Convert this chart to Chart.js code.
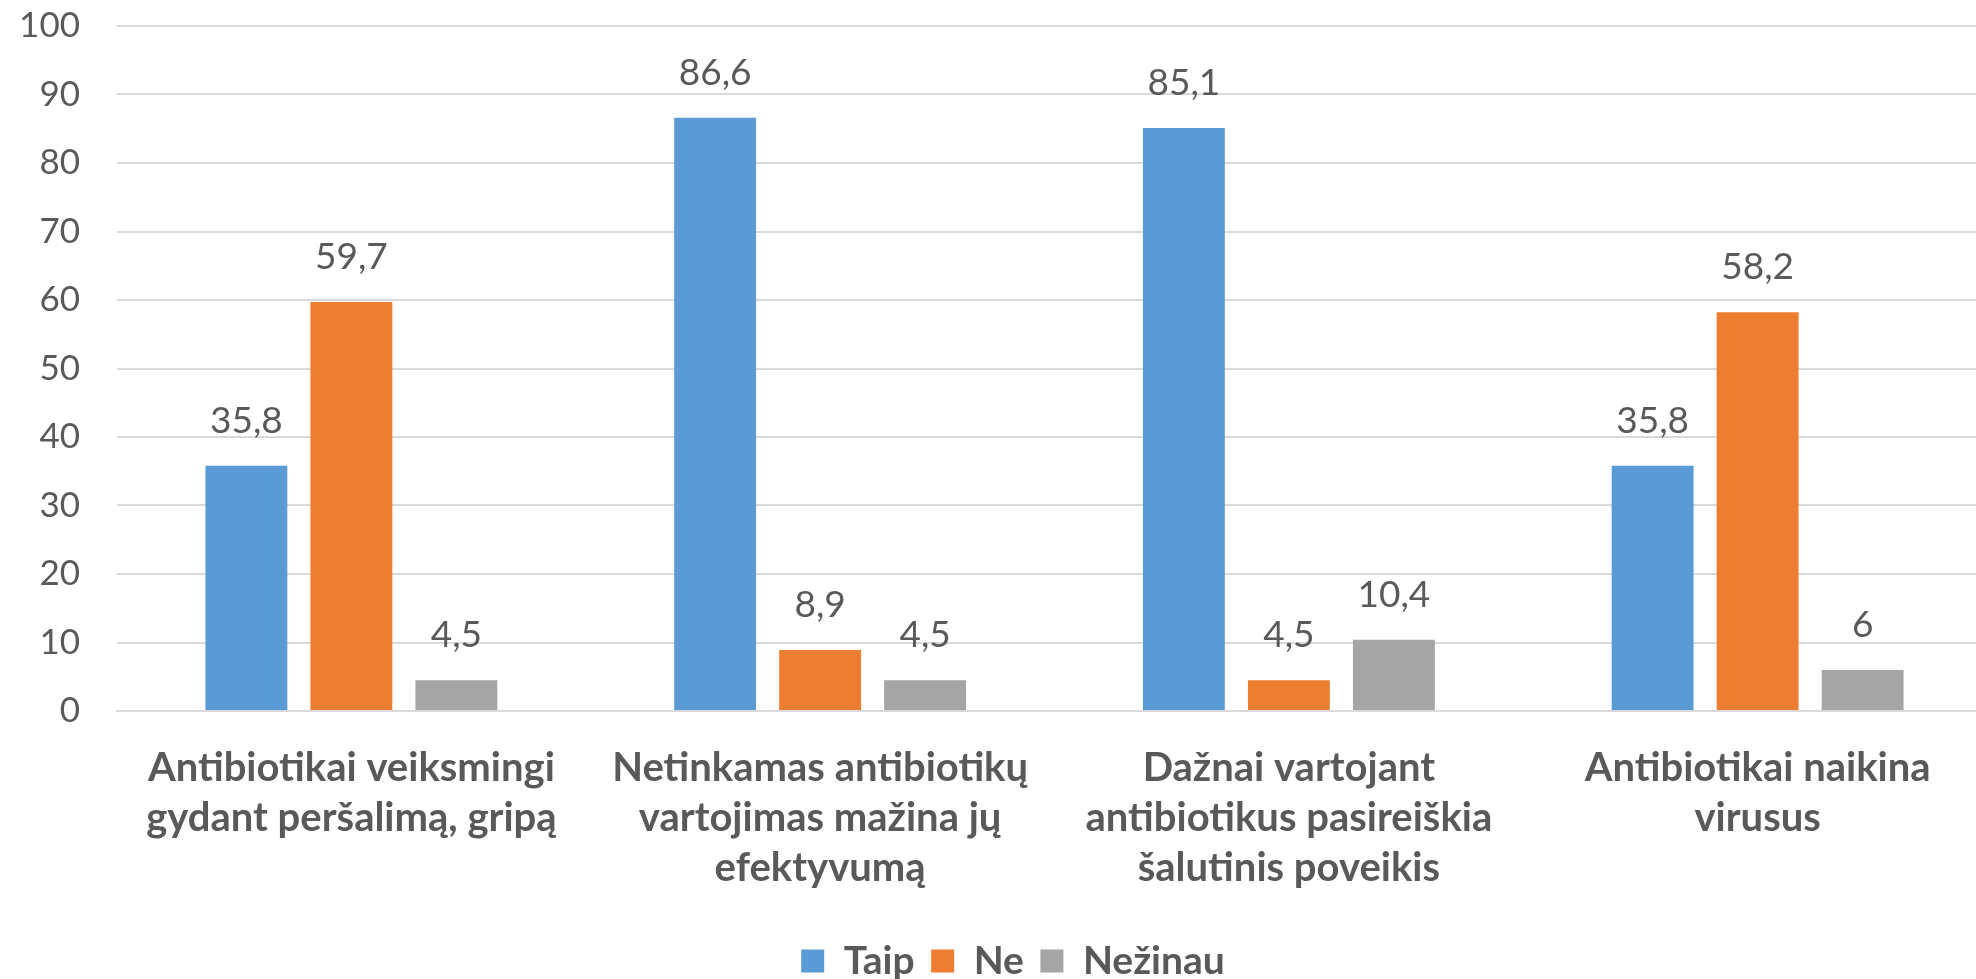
<!DOCTYPE html>
<html>
<head>
<meta charset="utf-8">
<script src="https://cdn.jsdelivr.net/npm/chart.js@4"></script>
<style>
  html, body { margin: 0; padding: 0; background: #fff; overflow: hidden; }
  #wrap { width: 2010px; height: 979px; }
</style>
</head>
<body>
<div id="wrap"><canvas id="chart"></canvas></div>
<script>
  // Kategorijos (teiginiai)
  const categories = [
    ['Antibiotikai veiksmingi', 'gydant peršalimą, gripą'],
    ['Netinkamas antibiotikų', 'vartojimas mažina jų', 'efektyvumą'],
    ['Dažnai vartojant', 'antibiotikus pasireiškia', 'šalutinis poveikis'],
    ['Antibiotikai naikina', 'virusus']
  ];
  const taip = [35.8, 86.6, 85.1, 35.8];
  const ne = [59.7, 8.9, 4.5, 58.2];
  const nezinau = [4.5, 4.5, 10.4, 6];
  const yTicks = [0, 10, 20, 30, 40, 50, 60, 70, 80, 90, 100];

  const textColor = '#595959';
  const fontFamily = 'Lato, "Open Sans", sans-serif';

  // Reikšmių etiketės virš stulpelių
  const valueLabels = {
    id: 'valueLabels',
    afterDatasetsDraw(chart) {
      const ctx = chart.ctx;
      ctx.save();
      ctx.font = '37px ' + fontFamily;
      ctx.fillStyle = textColor;
      ctx.textAlign = 'center';
      ctx.textBaseline = 'alphabetic';
      chart.data.datasets.forEach((ds, i) => {
        chart.getDatasetMeta(i).data.forEach((bar, j) => {
          ctx.fillText(String(ds.data[j]).replace('.', ','), bar.x, bar.y - 33);
        });
      });
      ctx.restore();
    }
  };

  // Legenda šiek tiek paslenkama į dešinę
  const legendShift = {
    id: 'legendShift',
    afterLayout(chart) {
      chart.legend.left += 12;
      chart.legend.right += 12;
    }
  };

  const ctx = document.getElementById('chart').getContext('2d');
  new Chart(ctx, {
    type: 'bar',
    data: {
      labels: categories,
      datasets: [
        { label: 'Taip', data: taip, backgroundColor: '#5B9BD5' },
        { label: 'Ne', data: ne, backgroundColor: '#ED7D31' },
        { label: 'Nežinau', data: nezinau, backgroundColor: '#A5A5A5' }
      ]
    },
    options: {
      responsive: true,
      maintainAspectRatio: false,
      animation: false,
      layout: { padding: { top: 26, left: 10, right: 18, bottom: -11.5 } },
      datasets: {
        bar: { categoryPercentage: 0.672, barPercentage: 0.78 }
      },
      scales: {
        x: {
          grid: { display: false, drawTicks: false },
          border: { display: true, color: '#d9d9d9', width: 2 },
          ticks: {
            color: textColor,
            font: { family: fontFamily, size: 40, weight: 'bold', lineHeight: 1.25 },
            maxRotation: 0,
            autoSkip: false,
            padding: 32
          }
        },
        y: {
          min: 0,
          max: 100,
          afterBuildTicks(scale) {
            scale.ticks = yTicks.map(v => ({ value: v }));
          },
          afterFit(scale) {
            scale.width = 107;
            scale.paddingTop = 0;
            scale.paddingBottom = 0;
          },
          grid: { color: '#d9d9d9', lineWidth: 2, drawTicks: false },
          border: { display: false },
          ticks: {
            color: textColor,
            font: { family: fontFamily, size: 35 },
            padding: 37
          }
        }
      },
      plugins: {
        legend: {
          position: 'bottom',
          labels: {
            color: textColor,
            font: { family: fontFamily, size: 39, weight: 'bold' },
            boxWidth: 23,
            boxHeight: 23,
            padding: 16.5
          }
        },
        tooltip: { enabled: false }
      }
    },
    plugins: [valueLabels, legendShift]
  });
</script>
</body>
</html>
